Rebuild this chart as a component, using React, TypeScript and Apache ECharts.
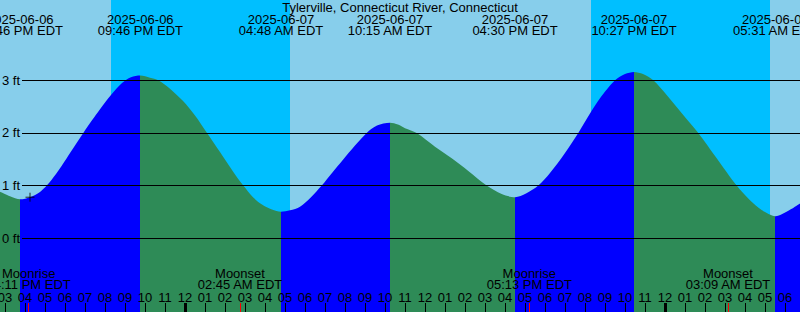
import React, { useEffect, useRef } from "react";
import * as echarts from "echarts";

const TITLE = "Tylerville, Connecticut River, Connecticut";
const FONT = "'Liberation Sans', Arial, Helvetica, sans-serif";

// Hours relative to 2025-06-07 00:00 EDT
const VIEW_START = -9.25;
const VIEW_END = 30.75;
const FEET_MIN = -1.4;
const FEET_MAX = 4.525;

// Tide curve readings (between the extremes)
const sampleHours = [
  -9.25, -8.75,
  -7.75, -7.25, -6.915, -6.45, -5.915, -5.5, -5.085, -4.65, -4.25, -3.7, -3.15, -2.7,
  -1.75, -1.335, -0.75, -0.085, 0.5, 1.1, 1.75, 2.4, 2.915, 3.4, 3.85, 4.35,
  5.25, 5.75, 6.3, 6.835, 7.35, 7.9, 8.5, 9.085, 9.6,
  10.65, 11.0, 11.585, 12.5, 13.335, 14.165, 15.085, 15.835,
  17.05, 17.665, 18.25, 19.0, 19.665, 20.335, 20.75, 21.5, 22.0,
  22.9, 23.415, 24.085, 24.85, 25.665, 26.585, 27.585, 28.25, 28.85,
  30.25, 30.75,
];
const sampleFeet = [
  0.885, 0.8,
  0.78, 0.88, 1.0, 1.22, 1.52, 1.76, 2.0, 2.24, 2.45, 2.72, 2.95, 3.06,
  3.05, 3.0, 2.84, 2.6, 2.33, 2.0, 1.64, 1.27, 1.0, 0.78, 0.64, 0.545,
  0.53, 0.6, 0.78, 1.0, 1.24, 1.49, 1.76, 2.0, 2.14,
  2.16, 2.09, 2.0, 1.74, 1.52, 1.28, 1.0, 0.84,
  0.85, 1.0, 1.24, 1.62, 2.0, 2.42, 2.66, 3.0, 3.12,
  3.12, 3.0, 2.72, 2.37, 2.0, 1.52, 1.0, 0.72, 0.53,
  0.54, 0.66,
];

// High / low tides
const extremeHours = [-8.233, -2.233, 4.8, 10.25, 16.5, 22.45, 29.517];
const extremeFeet = [0.74, 3.09, 0.505, 2.195, 0.78, 3.16, 0.42];
const extremeDates = [
  "2025-06-06", "2025-06-06", "2025-06-07", "2025-06-07",
  "2025-06-07", "2025-06-07", "2025-06-08",
];
const extremeTimes = [
  "03:46 PM EDT", "09:46 PM EDT", "04:48 AM EDT", "10:15 AM EDT",
  "04:30 PM EDT", "10:27 PM EDT", "05:31 AM EDT",
];

// Moon events
const moonHours = [-7.817, 2.75, 17.217, 27.15];
const moonEvents = ["Moonrise", "Moonset", "Moonrise", "Moonset"];
const moonTimes = ["04:11 PM EDT", "02:45 AM EDT", "05:13 PM EDT", "03:09 AM EDT"];

// Night (sunset -> sunrise)
const nightStarts = [-3.7, 20.3];
const nightEnds = [5.25, 29.25];

const feetTicks = [0, 1, 2, 3];
const midnightHours = [0, 24];
const hourTicks = Array.from({ length: 40 }, (_, i) => i - 9);

const nowHours = [-7.75];
const nowFeet = [0.78];

const DAY = "#87CEEB";
const NIGHT = "#00BFFF";
const RISE = "#0000FF";
const FALL = "#2E8B57";

const tideData = sampleHours
  .map((h, i) => [h, sampleFeet[i]])
  .concat(extremeHours.map((h, i) => [h, extremeFeet[i]]))
  .sort((a, b) => a[0] - b[0]);

const isLow = (i: number) =>
  i + 1 < extremeFeet.length
    ? extremeFeet[i] < extremeFeet[i + 1]
    : extremeFeet[i] < extremeFeet[i - 1];

const pieces: any[] = [];
pieces.push({ lt: extremeHours[0], color: isLow(0) ? FALL : RISE });
for (let i = 0; i < extremeHours.length - 1; i++) {
  pieces.push({ gte: extremeHours[i], lt: extremeHours[i + 1], color: isLow(i) ? RISE : FALL });
}
pieces.push({
  gte: extremeHours[extremeHours.length - 1],
  color: isLow(extremeHours.length - 1) ? RISE : FALL,
});

const findIdx = (arr: number[], v: number) => arr.findIndex((h) => Math.abs(h - v) < 1e-6);

const hourLabel = (v: number) => {
  const h = ((Math.round(v) % 24) + 24) % 24;
  const h12 = h % 12 === 0 ? 12 : h % 12;
  return String(h12).padStart(2, "0");
};
const extremeLabel = (v: number) => {
  const i = findIdx(extremeHours, v);
  return i < 0 ? "" : extremeDates[i] + "\n" + extremeTimes[i];
};
const moonLabel = (v: number) => {
  const i = findIdx(moonHours, v);
  return i < 0 ? "" : moonEvents[i] + "\n" + moonTimes[i];
};

const txt = { color: "#000", fontSize: 13, fontFamily: FONT };

const baseX = {
  type: "value",
  gridIndex: 0,
  min: VIEW_START,
  max: VIEW_END,
  axisLine: { show: false, onZero: false },
  splitLine: { show: false },
  z: 10,
};

const option: any = {
  animation: false,
  backgroundColor: DAY,
  textStyle: { fontFamily: FONT, fontSize: 13, color: "#000" },
  title: {
    text: TITLE,
    left: "center",
    top: 1,
    padding: 0,
    textStyle: { ...txt, fontWeight: "normal" },
  },
  grid: [
    { left: 0, right: 0, top: 0, bottom: 0, containLabel: false, outerBoundsMode: "none" },
    { left: 22, right: 0, top: 0, bottom: 0, containLabel: false, outerBoundsMode: "none" },
  ],
  xAxis: [
    {
      ...baseX,
      position: "bottom",
      axisTick: { show: true, inside: true, length: 9, customValues: hourTicks, lineStyle: { color: "#000", width: 1 } },
      axisLabel: {
        show: true, inside: true, margin: 8.5, customValues: hourTicks, formatter: hourLabel,
        showMinLabel: true, showMaxLabel: true, ...txt,
      },
    },
    {
      ...baseX,
      position: "bottom",
      axisTick: { show: true, inside: true, length: 9, customValues: midnightHours, lineStyle: { color: "#000", width: 3 } },
      axisLabel: { show: false },
    },
    {
      ...baseX,
      position: "bottom",
      axisTick: { show: true, inside: true, length: 9, customValues: moonHours, lineStyle: { color: "#FF0000", width: 1 } },
      axisLabel: {
        show: true, inside: true, margin: 21.5, customValues: moonHours, formatter: moonLabel,
        lineHeight: 11.5, showMinLabel: true, showMaxLabel: true, ...txt,
      },
    },
    {
      ...baseX,
      position: "top",
      axisTick: { show: false },
      axisLabel: {
        show: true, inside: true, margin: 13.4, customValues: extremeHours, formatter: extremeLabel,
        lineHeight: 11.5, showMinLabel: true, showMaxLabel: true, ...txt,
      },
    },
    { type: "value", gridIndex: 1, min: 0, max: 1, show: false, axisLine: { onZero: false } },
  ],
  yAxis: [
    { type: "value", gridIndex: 0, min: FEET_MIN, max: FEET_MAX, show: false, axisLine: { onZero: false } },
    {
      type: "value",
      gridIndex: 1,
      min: FEET_MIN,
      max: FEET_MAX,
      position: "left",
      z: 10,
      axisLine: { show: false, onZero: false },
      axisTick: { show: false, customValues: feetTicks },
      axisLabel: { show: true, customValues: feetTicks, formatter: "{value} ft", margin: 2, ...txt },
      splitLine: { show: true, lineStyle: { color: "#000", width: 1 } },
    },
  ],
  visualMap: {
    type: "piecewise",
    show: false,
    dimension: 0,
    seriesIndex: 0,
    pieces,
  },
  series: [
    {
      type: "line",
      xAxisIndex: 0,
      yAxisIndex: 0,
      data: tideData,
      smooth: 0.3,
      showSymbol: false,
      symbol: "none",
      lineStyle: { width: 0 },
      areaStyle: { opacity: 1, origin: "start" },
      z: 2,
      silent: true,
      markArea: {
        silent: true,
        z: 1,
        itemStyle: { color: NIGHT, opacity: 1, borderWidth: 0 },
        label: { show: false },
        data: nightStarts.map((s, i) => [{ xAxis: s }, { xAxis: nightEnds[i] }]),
      },
    },
    {
      type: "scatter",
      xAxisIndex: 0,
      yAxisIndex: 0,
      z: 20,
      silent: true,
      symbol: "path://M5,0L5,10M0,5L10,5",
      symbolSize: 9,
      itemStyle: { color: "none", borderColor: "#000", borderWidth: 1 },
      data: nowHours.map((h, i) => [h, nowFeet[i]]),
    },
  ],
};

export default function App() {
  const ref = useRef<HTMLDivElement>(null);
  useEffect(() => {
    if (!ref.current) return;
    const chart = echarts.init(ref.current, null, { renderer: "svg" });
    chart.setOption(option);
    return () => chart.dispose();
  }, []);
  return (
    <div
      ref={ref}
      style={{ width: 800, height: 312, position: "absolute", left: 0, top: 0 }}
    />
  );
}
